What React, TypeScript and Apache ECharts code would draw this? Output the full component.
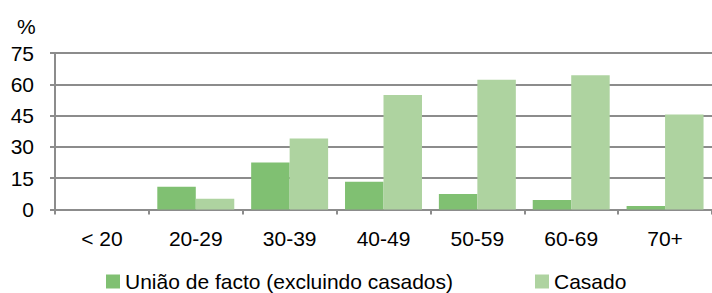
import React, { useEffect, useRef } from "react";
import * as echarts from "echarts";

const categories = ["< 20", "20-29", "30-39", "40-49", "50-59", "60-69", "70+"];
const uniaoFacto = [0, 10.9, 22.5, 13.3, 7.4, 4.5, 1.7];
const casado = [0, 5.2, 34.0, 54.9, 62.2, 64.3, 45.5];
const seriesNames = ["União de facto (excluindo casados)", "Casado"];

const FONT = "'Liberation Sans', Arial, sans-serif";

export default function App() {
  const ref = useRef<HTMLDivElement>(null);
  useEffect(() => {
    if (!ref.current) return;
    const chart = echarts.init(ref.current, undefined, { renderer: "svg" });
    const legendBase = {
      top: 266,
      itemWidth: 14,
      itemHeight: 14,
      icon: "rect",
      textStyle: { fontSize: 21, color: "#000", fontFamily: FONT },
    };
    chart.setOption({
      animation: false,
      textStyle: { fontFamily: FONT },
      grid: { left: 55, top: 53, right: -7, bottom: 83.5 },
      legend: [
        { ...legendBase, left: 101, data: [seriesNames[0]] },
        { ...legendBase, left: 530, data: [seriesNames[1]] },
      ],
      graphic: [
        {
          type: "text",
          left: 17,
          top: 16,
          style: { text: "%", fontSize: 21, fill: "#000", fontFamily: FONT },
        },
      ],
      xAxis: {
        type: "category",
        data: categories,
        axisLine: { lineStyle: { color: "#8c8c8c", width: 2 } },
        axisTick: { show: true, length: 5, lineStyle: { color: "#8c8c8c", width: 2 } },
        axisLabel: { fontSize: 21, color: "#000", margin: 18, fontFamily: FONT },
      },
      yAxis: {
        type: "value",
        min: 0,
        max: 75,
        interval: 15,
        axisLine: { show: true, lineStyle: { color: "#8c8c8c", width: 2 } },
        axisTick: { show: true, length: 5, lineStyle: { color: "#8c8c8c", width: 2 } },
        splitLine: { lineStyle: { color: "#8c8c8c", width: 2 } },
        axisLabel: { fontSize: 21, color: "#000", margin: 21, fontFamily: FONT },
      },
      series: [
        {
          name: seriesNames[0],
          type: "bar",
          data: uniaoFacto,
          barGap: "0%",
          barCategoryGap: "18%",
          itemStyle: { color: "#80c072" },
        },
        {
          name: seriesNames[1],
          type: "bar",
          data: casado,
          barGap: "0%",
          barCategoryGap: "18%",
          itemStyle: { color: "#aed3a0" },
        },
      ],
    });
    return () => chart.dispose();
  }, []);
  return <div ref={ref} style={{ width: 712, height: 293, position: "absolute", left: 0, top: 0 }} />;
}
